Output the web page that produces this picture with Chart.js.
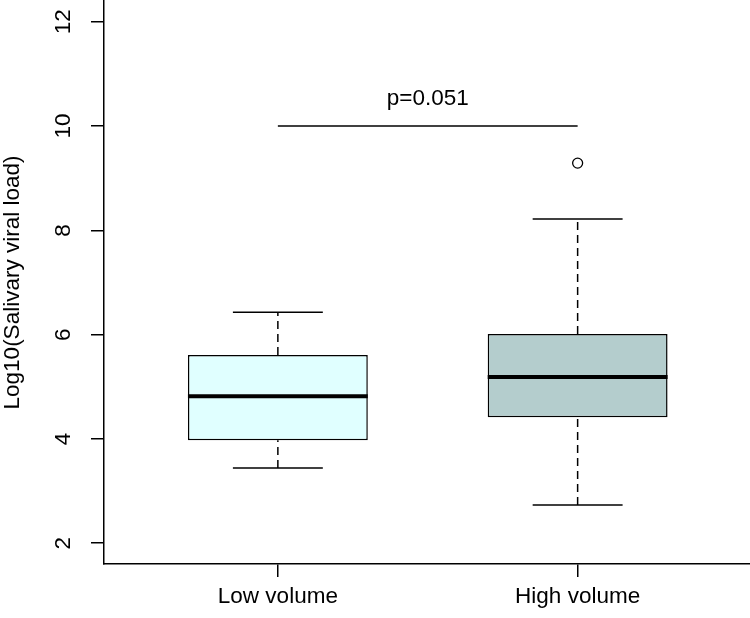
<!DOCTYPE html>
<html>
<head>
<meta charset="utf-8">
<script src="https://cdn.jsdelivr.net/npm/chart.js@4/dist/chart.umd.min.js"></script>
<style>
  html, body { margin: 0; padding: 0; background: #fff; }
  #wrap { width: 750px; height: 618px; }
</style>
</head>
<body>
<div id="wrap"><canvas id="c" width="750" height="618"></canvas></div>
<script>
// ── datos ─────────────────────────────────────────────
const groups      = ['Low volume', 'High volume'];
const xPos        = [1, 2];
const whiskerLow  = [3.44, 2.73];
const q1          = [3.976, 4.417];
const median      = [4.82, 5.185];
const q3          = [5.607, 6.01];
const whiskerHigh = [6.43, 8.216];
const outliers    = [[], [9.29]];
const yTicks      = [2, 4, 6, 8, 10, 12];
const bracket     = {from: 1, to: 2, y: 10, label: 'p=0.051'};

// ── estilos ──────────────────────────────────────────
const boxFill  = ['#E0FFFF', '#B4CDCD'];
const INK      = '#000';
const BOX_HALF = 0.3;
const CAP_HALF = 0.15;
const LW       = 1.5;
const FS       = 22.5;

Chart.defaults.font.family = "'Liberation Sans', Arial, sans-serif";
Chart.defaults.font.size   = FS;
Chart.defaults.color       = INK;

const seg = (x0, y0, x1, y1, extra) => Object.assign({
  type: 'line',
  data: [{x: x0, y: y0}, {x: x1, y: y1}],
  borderColor: INK,
  borderWidth: LW,
  pointRadius: 0,
  pointHoverRadius: 0,
  fill: false,
  order: 1,
}, extra || {});

const datasets = [];

// cajas (barras flotantes q1..q3)
datasets.push({
  type: 'bar',
  data: xPos.map((x, i) => ({x, y: [q1[i], q3[i]]})),
  backgroundColor: boxFill,
  borderColor: INK,
  borderWidth: LW,
  borderSkipped: false,
  barPercentage: 0.6,
  categoryPercentage: 1,
  grouped: false,
  order: 2,
});

xPos.forEach((x, i) => {
  // bigotes punteados
  datasets.push(seg(x, q3[i], x, whiskerHigh[i], {borderDash: [8, 5]}));
  datasets.push(seg(x, whiskerLow[i], x, q1[i], {borderDash: [8, 5]}));
  // topes
  datasets.push(seg(x - CAP_HALF, whiskerHigh[i], x + CAP_HALF, whiskerHigh[i]));
  datasets.push(seg(x - CAP_HALF, whiskerLow[i], x + CAP_HALF, whiskerLow[i]));
  // mediana
  datasets.push(seg(x - BOX_HALF, median[i], x + BOX_HALF, median[i], {borderWidth: 4, order: 0}));
});

// outliers
datasets.push({
  type: 'scatter',
  data: xPos.flatMap((x, i) => outliers[i].map(v => ({x, y: v}))),
  pointStyle: 'circle',
  pointRadius: 5,
  pointBorderWidth: 1.3,
  pointBorderColor: INK,
  pointBackgroundColor: 'rgba(0,0,0,0)',
  order: 0,
});

// línea del p-valor
datasets.push(seg(bracket.from, bracket.y, bracket.to, bracket.y));

const pLabel = {
  id: 'pLabel',
  afterDatasetsDraw(chart) {
    const {ctx, scales: {x, y}} = chart;
    ctx.save();
    ctx.font = FS + "px 'Liberation Sans', Arial, sans-serif";
    ctx.fillStyle = INK;
    ctx.textAlign = 'center';
    ctx.textBaseline = 'alphabetic';
    ctx.fillText(bracket.label, x.getPixelForValue((bracket.from + bracket.to) / 2), y.getPixelForValue(bracket.y) - 21);
    ctx.restore();
  },
};

new Chart(document.getElementById('c'), {
  type: 'scatter',
  data: {datasets},
  plugins: [pLabel],
  options: {
    responsive: false,
    animation: false,
    devicePixelRatio: 1,
    layout: {autoPadding: false, padding: {left: 0, right: 0, top: 1, bottom: 0}},
    plugins: {legend: {display: false}, tooltip: {enabled: false}},
    scales: {
      x: {
        type: 'linear',
        min: 0.42,
        max: 2.575,
        bounds: 'data',
        offset: false,
        grid: {drawOnChartArea: false, drawTicks: true, tickLength: 13, color: INK, lineWidth: LW, offset: false},
        border: {display: true, color: INK, width: LW},
        ticks: {
          padding: 6,
          maxRotation: 0,
          autoSkip: false,
          callback: v => groups[xPos.indexOf(v)] ?? '',
        },
        afterBuildTicks: s => { s.ticks = xPos.map(v => ({value: v})); },
        afterFit: s => { s.height = 54; s.paddingLeft = 0; s.paddingRight = 0; },
      },
      y: {
        type: 'linear',
        min: 1.6,
        max: 12.4,
        bounds: 'data',
        grid: {drawOnChartArea: false, drawTicks: true, tickLength: 13, color: INK, lineWidth: LW},
        border: {display: true, color: INK, width: LW},
        ticks: {
          padding: 15,
          minRotation: 90,
          maxRotation: 90,
          crossAlign: 'center',
          autoSkip: false,
        },
        afterBuildTicks: s => { s.ticks = yTicks.map(v => ({value: v})); },
        afterFit: s => { s.width = 104; s.paddingTop = 0; s.paddingBottom = 0; },
        title: {
          display: true,
          text: 'Log10(Salivary viral load)',
          font: {size: FS, lineHeight: 1.1},
          padding: 0,
        },
      },
    },
  },
});
</script>
</body>
</html>
